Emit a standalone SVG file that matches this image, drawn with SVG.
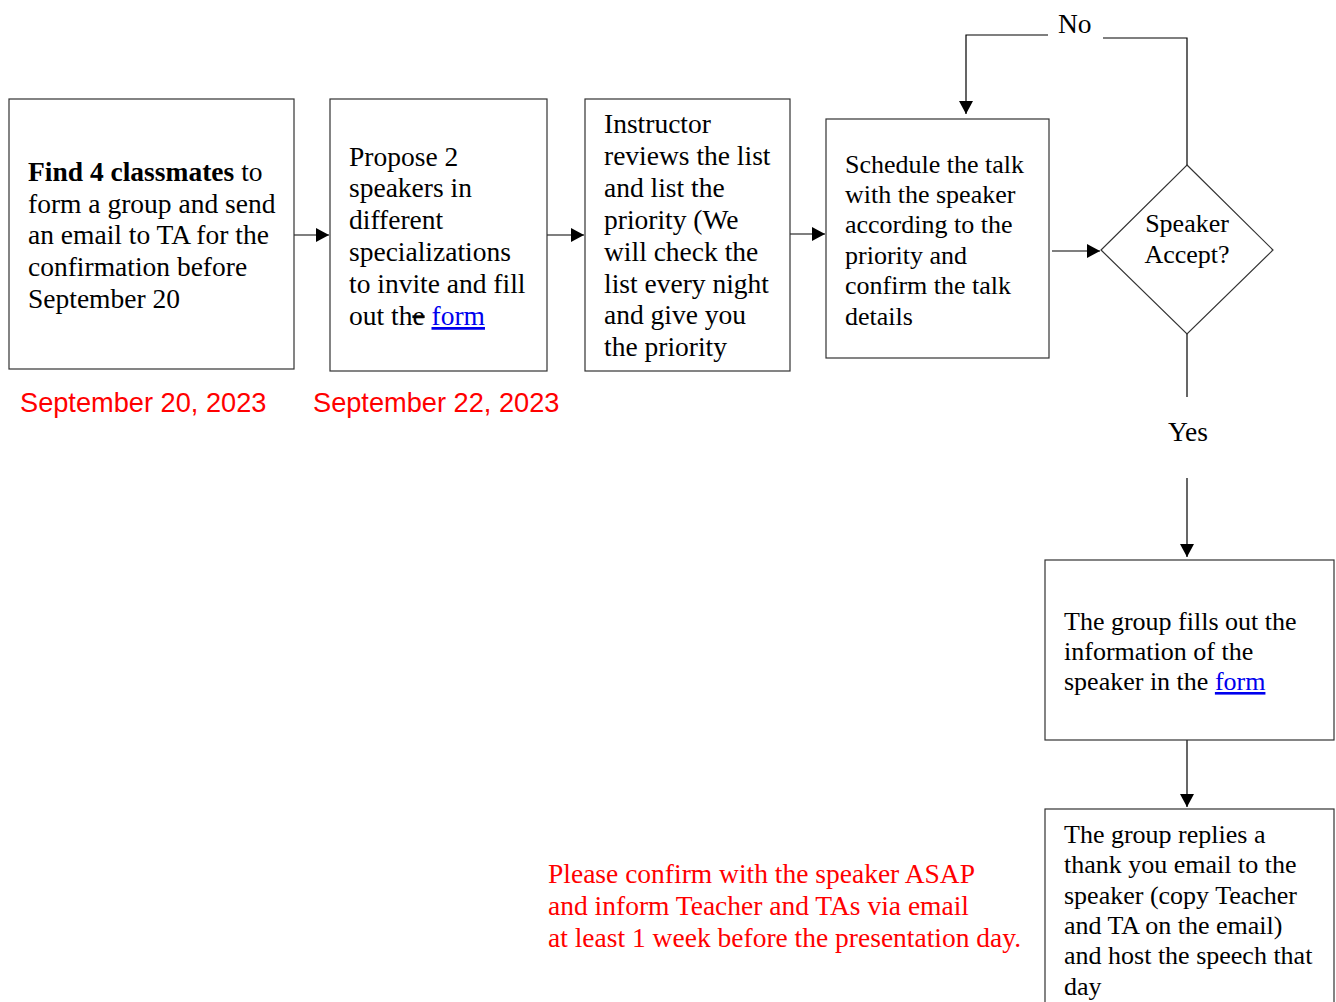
<svg xmlns="http://www.w3.org/2000/svg" width="1336" height="1002" viewBox="0 0 1336 1002">
<style>
.box{fill:#fff;stroke:#333;stroke-width:1.2}
.t{font-family:"Liberation Serif","Times New Roman",serif;fill:#000}
.a{font-size:27.5px}
.b{font-size:26px}
.link{fill:#0000ee;text-decoration:underline}
.red{fill:#ff0000}
.date{font-family:"Liberation Sans",Arial,sans-serif;font-size:27.2px;fill:#ff0000}
.c{fill:none;stroke:#000;stroke-width:1.2}
</style>
<defs>
<marker id="arr" markerWidth="16" markerHeight="16" refX="13" refY="7" orient="auto" markerUnits="userSpaceOnUse">
<path d="M0,0 L13,7 L0,14 Z" fill="#000"/>
</marker>
</defs>
<rect width="1336" height="1002" fill="#fff"/>
<g id="connectors">
<line class="c" x1="294" y1="235" x2="329" y2="235" marker-end="url(#arr)"/>
<line class="c" x1="547" y1="235" x2="584" y2="235" marker-end="url(#arr)"/>
<line class="c" x1="790" y1="234" x2="825" y2="234" marker-end="url(#arr)"/>
<line class="c" x1="1052" y1="251" x2="1100" y2="251" marker-end="url(#arr)"/>
<polyline class="c" points="1187,165 1187,38 1103,38"/>
<polyline class="c" points="1048,35 966,35 966,114" marker-end="url(#arr)"/>
<line class="c" x1="1187" y1="334" x2="1187" y2="397"/>
<line class="c" x1="1187" y1="478" x2="1187" y2="557" marker-end="url(#arr)"/>
<line class="c" x1="1187" y1="740" x2="1187" y2="807" marker-end="url(#arr)"/>
</g>
<g id="n1">
<rect class="box" x="9" y="99" width="285" height="270"/>
<text class="t a" x="28"><tspan y="181"><tspan font-weight="bold">Find 4 classmates</tspan> to</tspan><tspan x="28" y="213">form a group and send</tspan><tspan x="28" y="244">an email to TA for the</tspan><tspan x="28" y="276">confirmation before</tspan><tspan x="28" y="308">September 20</tspan></text>
</g>
<g id="n2">
<rect class="box" x="330" y="99" width="217" height="272"/>
<text class="t a" x="349"><tspan y="166">Propose 2</tspan><tspan x="349" y="197">speakers in</tspan><tspan x="349" y="229">different</tspan><tspan x="349" y="261">specializations</tspan><tspan x="349" y="293">to invite and fill</tspan><tspan x="349" y="325">out th<tspan text-decoration="line-through">e</tspan> <tspan class="link">form</tspan></tspan></text>
</g>
<g id="n3">
<rect class="box" x="585" y="99" width="205" height="272"/>
<text class="t a" x="604"><tspan y="133">Instructor</tspan><tspan x="604" y="165">reviews the list</tspan><tspan x="604" y="197">and list the</tspan><tspan x="604" y="229">priority (We</tspan><tspan x="604" y="261">will check the</tspan><tspan x="604" y="293">list every night</tspan><tspan x="604" y="324">and give you</tspan><tspan x="604" y="356">the priority</tspan></text>
</g>
<g id="n4">
<rect class="box" x="826" y="119" width="223" height="239"/>
<text class="t b" x="845"><tspan y="173">Schedule the talk</tspan><tspan x="845" y="203">with the speaker</tspan><tspan x="845" y="233">according to the</tspan><tspan x="845" y="264">priority and</tspan><tspan x="845" y="294">confirm the talk</tspan><tspan x="845" y="325">details</tspan></text>
</g>
<g id="decision">
<polygon class="box" points="1187,165 1273,250 1187,334 1101,250"/>
<text class="t b" x="1187" text-anchor="middle"><tspan y="232">Speaker</tspan><tspan x="1187" y="263">Accept?</tspan></text>
</g>
<g id="labels">
<text class="t a" x="1058" y="33">No</text>
<text class="t a" x="1188" y="441" text-anchor="middle">Yes</text>
<text class="date" x="20" y="412">September 20, 2023</text>
<text class="date" x="313" y="412">September 22, 2023</text>
<text class="t a red" x="548"><tspan y="883">Please confirm with the speaker ASAP</tspan><tspan x="548" y="915">and inform Teacher and TAs via email</tspan><tspan x="548" y="947">at least 1 week before the presentation day.</tspan></text>
</g>
<g id="n5">
<rect class="box" x="1045" y="560" width="289" height="180"/>
<text class="t b" x="1064"><tspan y="630">The group fills out the</tspan><tspan x="1064" y="660">information of the</tspan><tspan x="1064" y="690">speaker in the <tspan class="link">form</tspan></tspan></text>
</g>
<g id="n6">
<rect class="box" x="1045" y="809" width="289" height="200"/>
<text class="t b" x="1064"><tspan y="843">The group replies a</tspan><tspan x="1064" y="873">thank you email to the</tspan><tspan x="1064" y="904">speaker (copy Teacher</tspan><tspan x="1064" y="934">and TA on the email)</tspan><tspan x="1064" y="964">and host the speech that</tspan><tspan x="1064" y="995">day</tspan></text>
</g>
</svg>
